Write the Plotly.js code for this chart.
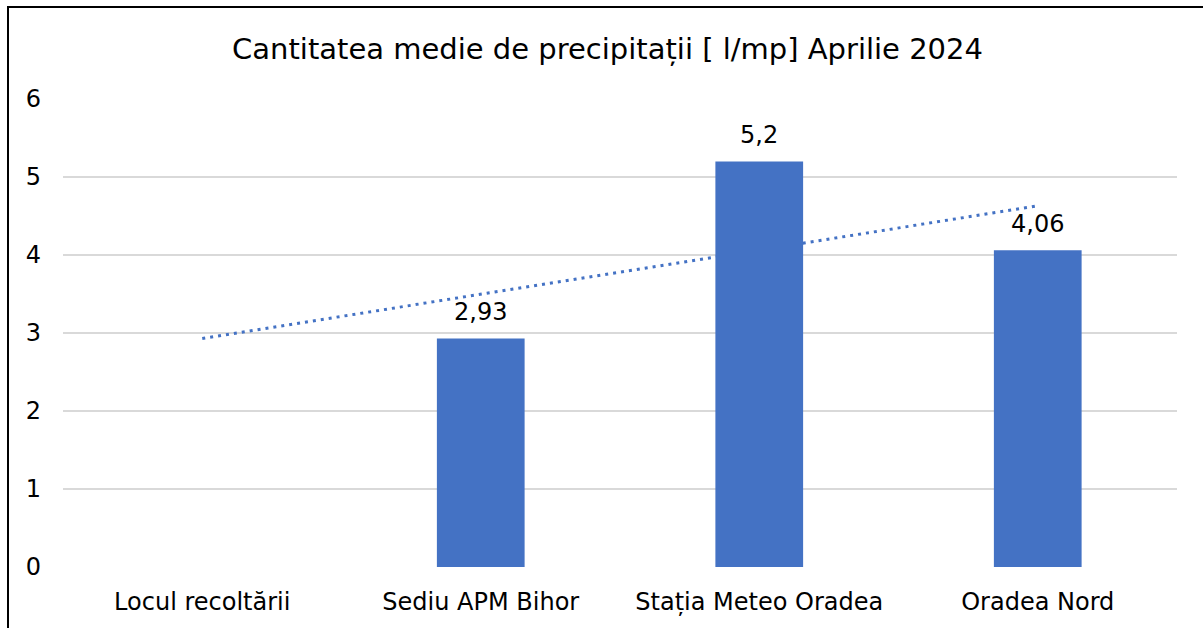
<!DOCTYPE html>
<html>
<head>
<meta charset="utf-8">
<script src="https://cdn.plot.ly/plotly-3.0.1.min.js"></script>
<style>
  html, body { margin: 0; padding: 0; background: #fff; }
  #wrap { position: relative; width: 1203px; height: 628px; overflow: hidden; }
  #chart { position: absolute; left: 0; top: 0; width: 1203px; height: 628px; }
  #frame { position: absolute; left: 7px; top: 6px; width: 1300px; height: 700px;
           border: 2px solid #000; box-sizing: border-box; pointer-events: none; }
</style>
</head>
<body>
<div id="wrap">
  <div id="chart"></div>
  <div id="frame"></div>
</div>
<script>
// Data
const categories = ['Locul recoltării', 'Sediu APM Bihor', 'Stația Meteo Oradea', 'Oradea Nord'];
const values = [null, 2.93, 5.2, 4.06];
const trendCategories = ['Locul recoltării', 'Oradea Nord'];
const trendValues = [2.93, 4.63];
const yTicks = [0, 1, 2, 3, 4, 5, 6];
const titleText = 'Cantitatea medie de precipitații [ l/mp] Aprilie 2024';

const FONT = 'DejaVu Sans, Noto Sans, sans-serif';
const BLUE = '#4472C4';

const fmt = v => String(v).replace('.', ',');

const trend = {
  type: 'scatter', mode: 'lines',
  x: trendCategories, y: trendValues,
  xaxis: 'x', yaxis: 'y',
  line: { color: BLUE, width: 3, dash: '3px,5px' },
  hoverinfo: 'skip', showlegend: false
};

const bars = {
  type: 'bar',
  x: categories, y: values,
  xaxis: 'x2', yaxis: 'y2',
  marker: { color: BLUE },
  hoverinfo: 'skip', showlegend: false
};

const annotations = [];
categories.forEach((c, i) => {
  if (values[i] !== null) {
    annotations.push({
      xref: 'x2', yref: 'y2', x: c, y: values[i],
      text: fmt(values[i]), showarrow: false,
      yanchor: 'bottom', yshift: 10,
      font: { family: FONT, size: 24, color: '#000' }
    });
  }
});

const layout = {
  width: 1203, height: 628,
  paper_bgcolor: '#fff', plot_bgcolor: 'rgba(0,0,0,0)',
  margin: { l: 63, r: 26, t: 99, b: 61 },
  title: {
    text: titleText,
    font: { family: FONT, size: 29, color: '#000' },
    xref: 'container', yref: 'container',
    x: 0.505, xanchor: 'center', y: 1 - 49 / 628, yanchor: 'middle'
  },
  bargap: 0.685,
  xaxis: {
    type: 'category', categoryorder: 'array', categoryarray: categories,
    range: [-0.5, 3.5],
    showgrid: false, zeroline: false, showline: false,
    ticks: '', ticklabelstandoff: 18,
    tickfont: { family: FONT, size: 24, color: '#000' }
  },
  yaxis: {
    range: [0, 6], tickvals: yTicks, ticktext: yTicks.map(String),
    showgrid: true, gridcolor: '#d9d9d9', gridwidth: 2,
    zeroline: false, showline: false, ticks: '', ticklabelstandoff: 21,
    tickfont: { family: FONT, size: 24, color: '#000' }
  },
  xaxis2: {
    type: 'category', categoryorder: 'array', categoryarray: categories,
    range: [-0.5, 3.5], overlaying: 'x',
    showgrid: false, zeroline: false, showline: false, showticklabels: false, ticks: ''
  },
  yaxis2: {
    range: [0, 6], overlaying: 'y',
    showgrid: false, zeroline: false, showline: false, showticklabels: false, ticks: ''
  },
  annotations: annotations,
  showlegend: false
};

Plotly.newPlot('chart', [trend, bars], layout, { staticPlot: true, displayModeBar: false });
</script>
</body>
</html>
